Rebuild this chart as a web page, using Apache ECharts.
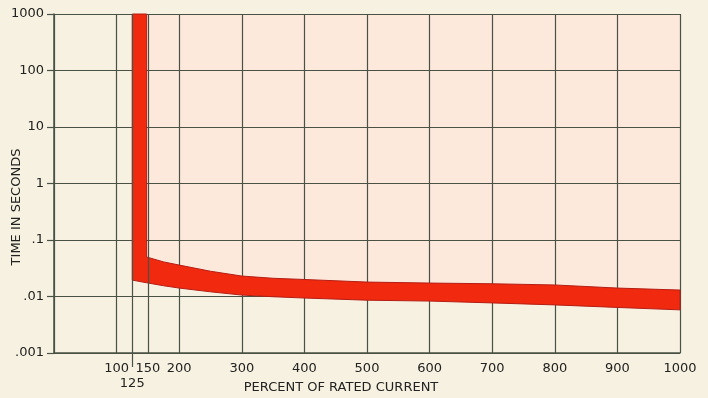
<!DOCTYPE html>
<html>
<head>
<meta charset="utf-8">
<script src="https://cdn.jsdelivr.net/npm/echarts@6/dist/echarts.min.js"></script>
<style>
  html, body { margin: 0; padding: 0; background: #f7f1e1; }
  #chart { width: 708px; height: 398px; }
</style>
</head>
<body>
<div id="chart"></div>
<script>
// axis values
const yLabels = { 1000: '1000', 100: '100', 10: '10', 1: '1', 0.1: '.1', 0.01: '.01', 0.001: '.001' }
const extraLines = [125, 150]

// vertical part of the band (percent, seconds)
const barLeft = 125
const barRight = 148
const barTop = 1000
const barBottomLeft = 0.0195

// horizontal part of the band
const edgeX = [148, 175, 200, 250, 300, 350, 400, 500, 600, 700, 800, 900, 1000]
const upperY = [0.05, 0.041, 0.036, 0.028, 0.023, 0.021, 0.020, 0.018, 0.0173, 0.0168, 0.016, 0.0141, 0.013]
const lowerY = [0.0175, 0.0155, 0.0141, 0.0121, 0.0106, 0.0099, 0.0094, 0.0086, 0.0083, 0.0077, 0.0071, 0.0064, 0.0058]

const gridColor = '#4a5145'
const textColor = '#222220'
const font = 'DejaVu Sans'

const chart = echarts.init(document.getElementById('chart'))

// band outline built from the arrays above
const bandPoints = () => {
  const pts = [[barLeft, barTop], [barRight, barTop]]
  edgeX.forEach((x, i) => pts.push([x, upperY[i]]))
  for (let i = edgeX.length - 1; i >= 0; i--) pts.push([edgeX[i], lowerY[i]])
  pts.push([barLeft, barBottomLeft])
  return pts
}

// pink tint above the band
const tintPoints = () => {
  const pts = [[barRight, barTop], [1000, barTop]]
  for (let i = edgeX.length - 1; i >= 0; i--) pts.push([edgeX[i], upperY[i]])
  return pts
}

const polygonItem = (getPts, style) => (params, api) => ({
  type: 'polygon',
  shape: { points: getPts().map(p => api.coord(p)) },
  style: style
})

const labelStyle = { color: textColor, fontFamily: font, fontSize: 13 }

const option = {
  backgroundColor: '#f7f1e1',
  animation: false,
  grid: { left: 54, right: 28, top: 14, bottom: 45 },
  xAxis: [
    {
      type: 'value', min: 0, max: 1000, interval: 100, z: 1,
      axisLine: { show: true, lineStyle: { color: gridColor, width: 1.5 } },
      axisTick: { show: false },
      splitLine: { show: true, lineStyle: { color: gridColor, width: 1.2 } },
      axisLabel: { ...labelStyle, margin: 9, formatter: v => (v === 0 ? '' : String(v)) }
    },
    {
      type: 'value', min: 0, max: 1000, position: 'bottom', offset: 0,
      axisLine: { show: false }, axisTick: { show: false }, splitLine: { show: false },
      axisLabel: { ...labelStyle, margin: 9, customValues: [150] }
    },
    {
      type: 'value', min: 0, max: 1000, position: 'bottom', offset: 0,
      axisLine: { show: true, lineStyle: { opacity: 0 } }, splitLine: { show: false },
      axisTick: { show: true, length: 14, customValues: [125], lineStyle: { color: gridColor, width: 1.2, opacity: 1 } },
      axisLabel: { ...labelStyle, margin: 24, customValues: [125] }
    }
  ],
  yAxis: {
    type: 'log', logBase: 10, min: 0.001, max: 1000, z: 1,
    axisLine: { show: true, lineStyle: { color: gridColor, width: 1.5 } },
    axisTick: { show: true, length: 7, lineStyle: { color: gridColor, width: 1.2 } },
    splitLine: { show: true, lineStyle: { color: gridColor, width: 1.2 } },
    minorTick: { show: false },
    axisLabel: { ...labelStyle, margin: 10, formatter: v => yLabels[v] || '' }
  },
  graphic: [
    {
      type: 'text', x: 17, y: 207, rotation: Math.PI / 2,
      style: {
        text: 'TIME IN SECONDS', fill: textColor, font: '13px "DejaVu Sans"',
        align: 'center', verticalAlign: 'middle', letterSpacing: 1.3
      }
    },
    {
      type: 'text', x: 341, y: 388,
      style: {
        text: 'PERCENT OF RATED CURRENT', fill: textColor, font: '13px "DejaVu Sans"',
        align: 'center', verticalAlign: 'middle', letterSpacing: 1.2
      }
    },
    {
      type: 'text', x: 576, y: 40,
      style: {
        text: 'DELAY 60', fill: '#3a3a36', font: 'bold 11px "DejaVu Sans"',
        backgroundColor: '#eef0de', padding: [2, 3], letterSpacing: 1
      }
    }
  ],
  series: [
    {
      type: 'custom', xAxisIndex: 0, z: 0, silent: true,
      data: [0],
      renderItem: polygonItem(tintPoints, { fill: '#fde8dc' }),
      markLine: {
        silent: true, symbol: 'none', label: { show: false },
        lineStyle: { color: gridColor, width: 1.2, type: 'solid' },
        data: extraLines.map(x => [{ coord: [x, 0.001] }, { coord: [x, 1000] }])
      }
    },
    {
      type: 'custom', xAxisIndex: 0, z: 2, silent: true,
      data: [0],
      renderItem: polygonItem(bandPoints, { fill: '#f1290f', stroke: '#b41e14', lineWidth: 1 })
    }
  ]
}

chart.setOption(option)
</script>
</body>
</html>
